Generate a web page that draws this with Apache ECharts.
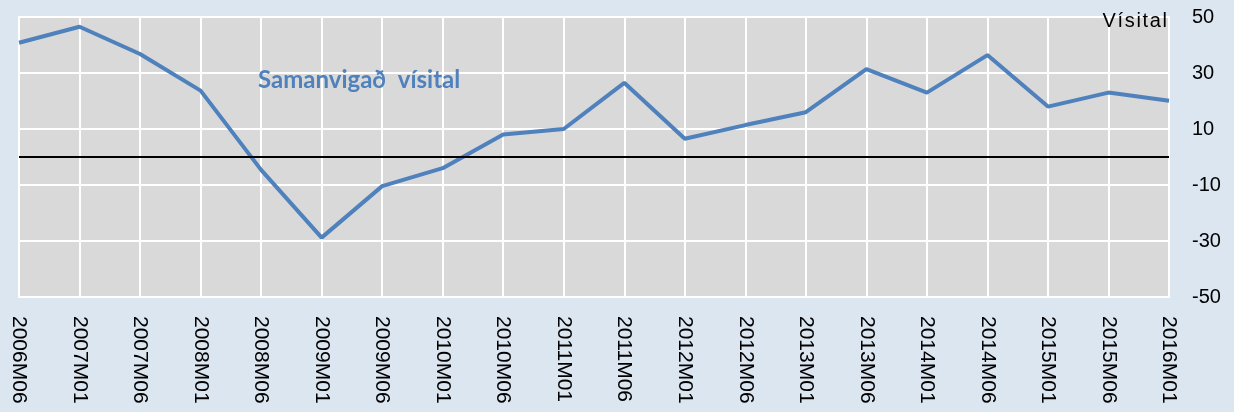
<!DOCTYPE html>
<html>
<head>
<meta charset="utf-8">
<script src="https://cdn.jsdelivr.net/npm/echarts@6/dist/echarts.min.js"></script>
<style>
  html, body { margin: 0; padding: 0; background: #dce6f1; }
  #chart { width: 1234px; height: 412px; }
</style>
</head>
<body>
<div id="chart"></div>
<script>
var months = [
  "2006M06", "2007M01", "2007M06", "2008M01", "2008M06", "2009M01", "2009M06",
  "2010M01", "2010M06", "2011M01", "2011M06", "2012M01", "2012M06", "2013M01",
  "2013M06", "2014M01", "2014M06", "2015M01", "2015M06", "2016M01"
];
var visital = [
  40.8, 46.5, 36.8, 23.7, -4.6, -28.8, -10.4, -4.0, 8.0, 10.0,
  26.5, 6.5, 11.4, 16.0, 31.4, 23.0, 36.4, 18.0, 23.0, 20.1
];

var myChart = echarts.init(document.getElementById("chart"));

var option = {
  backgroundColor: "#dce6f1",
  animation: false,
  title: [
    {
      text: "Samanvigað  vísital",
      left: 253,
      top: 63,
      textStyle: {
        color: "#4f81bd",
        fontSize: 24,
        fontWeight: "bold",
        fontFamily: "Lato"
      }
    },
    {
      // letter spaced like the original
      text: "V\u200Aí\u200As\u200Ai\u200At\u200Aa\u200Al",
      right: 62,
      top: 6,
      textStyle: {
        color: "#000",
        fontSize: 20,
        fontWeight: "normal",
        fontFamily: "Liberation Sans"
      }
    }
  ],
  grid: {
    left: 19,
    right: 65,
    top: 17,
    bottom: 115,
    show: true,
    backgroundColor: "#d9d9d9",
    borderColor: "#ffffff",
    borderWidth: 2
  },
  xAxis: {
    type: "category",
    data: months,
    boundaryGap: false,
    axisLine: { show: false },
    axisTick: { show: false },
    axisLabel: {
      rotate: -90,
      interval: 0,
      margin: 19,
      color: "#000",
      fontSize: 21,
      fontFamily: "Liberation Sans"
    },
    splitLine: {
      show: true,
      lineStyle: { color: "#ffffff", width: 2 }
    }
  },
  yAxis: {
    type: "value",
    position: "right",
    min: -50,
    max: 50,
    interval: 20,
    axisLine: { show: false },
    axisTick: { show: false },
    axisLabel: {
      margin: 23,
      color: "#000",
      fontSize: 20,
      fontFamily: "Liberation Sans"
    },
    splitLine: {
      show: true,
      lineStyle: { color: "#ffffff", width: 2 }
    }
  },
  series: [
    {
      name: "Samanvigað vísital",
      type: "line",
      data: visital,
      symbol: "none",
      lineStyle: { color: "#4f81bd", width: 4 },
      markLine: {
        silent: true,
        symbol: "none",
        label: { show: false },
        lineStyle: { color: "#000", width: 2, type: "solid" },
        data: [{ yAxis: 0 }]
      },
      z: 3
    }
  ]
};

myChart.setOption(option);
</script>
</body>
</html>
